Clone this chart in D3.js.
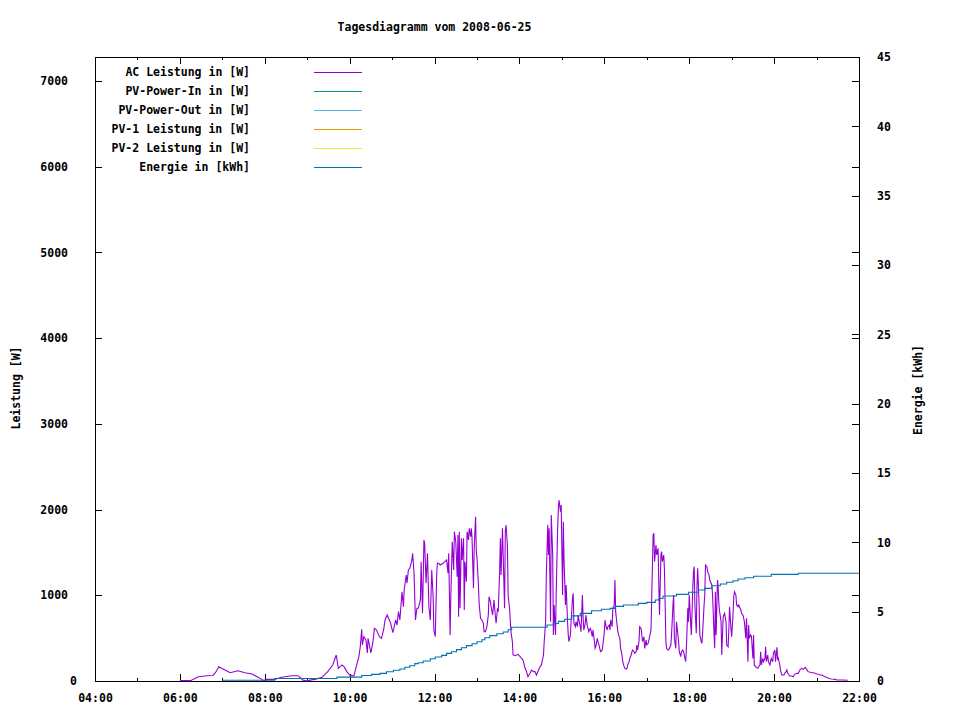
<!DOCTYPE html>
<html><head><meta charset="utf-8">
<script src="https://cdn.jsdelivr.net/npm/d3@7"></script>
<style>
body{margin:0;background:#fff;}
svg{display:block;background:#fff;}
text{font-family:"DejaVu Sans Mono",monospace;font-size:11.5px;font-weight:bold;fill:#000;}
</style></head><body>
<svg id="c" width="960" height="720"></svg>
<script>
// ---------- data ----------
const chartTitle = "Tagesdiagramm vom 2008-06-25";
const yLabel = "Leistung [W]";
const y2Label = "Energie [kWh]";
const legendNames = ["AC Leistung in [W]","PV-Power-In in [W]","PV-Power-Out in [W]","PV-1 Leistung in [W]","PV-2 Leistung in [W]","Energie in [kWh]"];
const legendColors = ["#9400d3","#009e73","#56b4e9","#e69f00","#f0e442","#0072b2"];
const xMajorTicks = [240,360,480,600,720,840,960,1080,1200,1320];   // minutes of day
const xMinorTicks = [300,420,540,660,780,900,1020,1140,1260];
const yTicks = [0,1000,2000,3000,4000,5000,6000,7000];
const y2Ticks = [0,5,10,15,20,25,30,35,40,45];
// AC Leistung [minute of day, W]
const acPower = [
[360,4],[375,4],[386,50],[398,62],[407,65],[412,120],[415,167],[421,140],[431,97],[442,120],[452,97],[462,82],[469,50],[476,19],[478,4],[483,19],[494,19],[504,43],[518,62],[527,62],[530,43],[534,10],[540,0],[544,10],[551,19],[561,43],[569,109],[576,187],[581,303],[584,148],[589,187],[592,167],[596,110],[600,70],[606,58],[609,160],[613,284],
[615,400],[617,603],[618,420],[620,517],[623,478],[625,327],[626,498],[630,327],[633,459],[635,614],[638,595],[642,517],[645,498],[648,595],[650,712],[653,770],[656,712],[658,673],[661,564],[663,634],[665,712],[667,653],[669,809],[671,712],[674,1042],[676,867],[677,1062],[680,1237],[681,1140],[683,1295],[685,1315],[688,1412],[689,1490],[691,1257],[693,712],[695,848],[697,848],[700,945],[701,1392],[703,790],[705,1645],[706,1606],[708,1140],[710,1490],[712,867],[714,712],[716,1295],[718,984],[719,595],[721,517],[723,1237],[724,1373],[726,1373],[728,1353],[732,1373],[737,1412],[739,1257],[740,1490],[742,537],[743,984],[745,1625],[747,1295],[748,1742],
[750,1625],[752,1217],[753,1703],[754,750],[755,1742],[756,848],[758,1665],[759,1412],[761,1665],[762,828],[763,1392],[765,1159],[766,1742],[768,1645],[769,1781],[771,1684],[772,1781],[773,1665],[775,1081],[776,1548],[778,1917],[779,1509],[780,1431],[782,1120],[783,906],[785,731],[787,712],[789,673],[790,575],[792,575],[794,634],[796,770],[797,984],[799,925],[800,867],[802,770],[803,848],[804,945],[806,750],[807,673],[809,848],[810,809],[812,1275],[813,1665],[814,1237],[816,1781],[817,1470],[819,848],[820,1742],[821,1820],[823,1587],[824,1003],[826,848],[827,712],[828,575],[830,459],[831,303],[832,303],[834,295],[836,303],[838,311],[841,284],[843,264],[845,245],[848,148],[850,109],[852,50],[855,90],[857,128],[860,109],[862,109],[864,70],[867,128],[869,167],[871,187],[874,303],[875,459],[877,692],[878,1237],[880,1820],[881,1470],[882,1781],[884,692],[885,1937],[887,1470],[888,537],[889,887],[891,537],[892,1042],[894,1781],[895,2015],[896,2112],[898,1975],[899,2053],[901,1003],[902,1859],[903,1431],[905,887],[906,1120],[908,692],[909,537],[910,459],[912,537],[913,692],[915,965],[916,1023],[917,673],
[919,634],[920,692],[922,634],[923,770],[924,712],[926,634],[927,575],[929,1003],[930,731],[931,595],[933,673],[934,770],[936,634],[937,614],[938,575],[940,614],[941,595],[943,517],[944,595],[946,459],[947,381],[948,400],[950,498],[951,459],[953,400],[954,362],[955,342],[957,362],[958,420],[960,575],[961,712],[962,653],[964,595],[965,634],[967,653],[968,595],[969,712],[971,634],[972,848],[974,887],[975,1178],[976,809],[978,653],[979,575],[981,517],[982,498],[983,381],[985,303],[986,225],[988,167],[989,148],[991,140],[992,148],[993,187],[995,225],[996,264],[998,303],[999,342],[1000,362],[1002,342],[1003,323],[1005,342],[1006,420],[1007,362],[1009,459],[1010,634],[1012,614],[1013,537],[1014,459],[1016,517],[1017,381],[1019,478],[1020,420],[1022,440],[1023,478],[1024,517],[1026,595],[1027,984],[1029,1703],[1030,1723],[1031,1392],[1033,1587],[1034,1470],[1036,1548],[1037,1120],[1038,770],[1040,1470],[1041,1509],[1042,1392],[1044,1470],[1045,1295],[1047,459],[1048,381],[1050,362],[1051,362],[1052,381],[1054,420],[1055,537],[1057,887],[1058,1003],[1059,498],[1061,381],[1062,692],[1063,614],[1065,459],[1066,342],[1068,284],[1069,342],[1071,362],[1072,342],[1073,303],[1075,225],[1076,381],[1078,848],[1079,692],[1080,1003],
[1082,692],[1083,537],[1085,1081],[1086,1275],[1087,1334],[1088,887],[1090,556],[1091,1120],[1092,1314],[1094,887],[1095,537],[1097,459],[1098,440],[1099,575],[1101,887],[1102,1003],[1103,1353],[1105,1334],[1106,1275],[1108,1237],[1109,1178],[1110,1159],[1112,1120],[1113,1003],[1115,575],[1116,381],[1117,1042],[1118,537],[1120,1178],[1121,1081],[1122,887],[1123,809],[1125,692],[1126,303],[1128,750],[1129,770],[1130,789],[1132,692],[1133,420],[1135,400],[1136,595],[1137,867],[1139,614],[1140,517],[1142,789],[1143,984],[1144,1042],[1146,1003],[1147,887],[1149,867],[1150,887],[1151,867],[1153,828],[1154,789],[1156,770],[1157,731],[1158,692],[1160,498],[1161,731],[1163,225],[1164,653],[1165,498],[1167,537],[1168,517],[1170,264],[1171,537],[1172,187],[1174,167],[1175,156],[1177,148],[1178,167],[1180,187],[1181,342],[1182,187],[1184,264],[1185,225],[1187,264],[1188,400],[1189,225],[1191,303],[1192,225],[1194,187],[1195,225],[1196,264],[1198,225],[1199,323],[1201,362],[1202,225],[1204,393],[1205,245],[1206,264],[1208,187],[1209,128],[1211,70],
[1212,70],[1214,70],[1215,89],[1217,109],[1218,128],[1219,97],[1221,70],[1222,58],[1225,58],[1227,50],[1229,78],[1232,89],[1234,89],[1237,136],[1239,148],[1241,136],[1244,159],[1246,136],[1248,109],[1251,101],[1253,97],[1256,97],[1258,89],[1260,82],[1263,78],[1265,70],[1267,70],[1270,58],[1272,50],[1274,43],[1277,31],[1279,27],[1282,23],[1286,19],[1289,12],[1296,12],[1304,8]
];
// Energie [minute of day, kWh]
const energy = [
[420,0.05],[494,0.18],[582,0.28],[617,0.4],[631,0.48],[643,0.55],[652,0.67],[662,0.77],[671,0.87],[678,0.99],[685,1.10],[692,1.25],[697,1.32],[704,1.44],[714,1.61],[721,1.73],[730,1.85],[737,1.99],[744,2.11],[751,2.26],[758,2.40],[765,2.55],[773,2.69],[780,2.83],[787,2.98],[791,3.12],[798,3.27],[808,3.41],[817,3.53],[824,3.70],[829,3.88],[879,4.04],[888,4.15],[895,4.30],[904,4.45],[914,4.70],[926,4.88],[942,5.07],[956,5.17],[968,5.24],[975,5.38],[987,5.48],[1008,5.60],[1020,5.67],[1032,5.84],[1037,5.95],[1043,6.13],[1062,6.25],[1079,6.40],[1093,6.56],[1102,6.68],[1112,6.87],[1124,7.00],[1133,7.12],[1142,7.23],[1149,7.36],[1159,7.45],[1171,7.55],[1196,7.69],[1234,7.77],[1320,7.77]
];

// ---------- layout ----------
const L = 95, R = 859, T = 57, B = 681;
const svg = d3.select("#c");
const x = d3.scaleLinear().domain([240,1320]).range([L,R]);
const yL = d3.scaleLinear().domain([0,7280]).range([B,T]);
const yR = d3.scaleLinear().domain([0,45]).range([B,T]);
const fmtTime = m => String(Math.floor(m/60)).padStart(2,"0")+":"+String(m%60).padStart(2,"0");

function styleAxis(g){
  g.select(".domain").remove();
  g.selectAll(".tick line").attr("stroke","#000").attr("shape-rendering","crispEdges");
  g.selectAll("text").attr("font-family",null).attr("font-size",null).attr("fill","#000");
  g.attr("font-family",null).attr("font-size",null);
}

// bottom axis
svg.append("g").attr("transform",`translate(0,${B})`)
  .call(d3.axisBottom(x).tickValues(xMajorTicks).tickFormat(fmtTime).tickSizeInner(-7).tickSizeOuter(0).tickPadding(13))
  .call(styleAxis);
svg.append("g").attr("transform",`translate(0,${B})`)
  .call(d3.axisBottom(x).tickValues(xMinorTicks).tickFormat("").tickSizeInner(-3).tickSizeOuter(0))
  .call(styleAxis);
// top mirror
svg.append("g").attr("transform",`translate(0,${T})`)
  .call(d3.axisTop(x).tickValues(xMajorTicks).tickFormat("").tickSizeInner(-7).tickSizeOuter(0))
  .call(styleAxis);
svg.append("g").attr("transform",`translate(0,${T})`)
  .call(d3.axisTop(x).tickValues(xMinorTicks).tickFormat("").tickSizeInner(-3).tickSizeOuter(0))
  .call(styleAxis);
// left axis
const gl = svg.append("g").attr("transform",`translate(${L},0)`)
  .call(d3.axisLeft(yL).tickValues(yTicks).tickFormat(d3.format("d")).tickSizeInner(-7).tickSizeOuter(0).tickPadding(27))
  .call(styleAxis);
gl.selectAll(".tick text").filter(d=>d===0).attr("x",-18);
// right mirror of left ticks
svg.append("g").attr("transform",`translate(${R},0)`)
  .call(d3.axisRight(yL).tickValues(yTicks).tickFormat("").tickSizeInner(-7).tickSizeOuter(0))
  .call(styleAxis);
// right axis
svg.append("g").attr("transform",`translate(${R},0)`)
  .call(d3.axisRight(yR).tickValues(y2Ticks).tickFormat(d3.format("d")).tickSizeInner(-7).tickSizeOuter(0).tickPadding(18))
  .call(styleAxis);

// border
svg.append("rect").attr("x",L+0.5).attr("y",T+0.5).attr("width",R-L).attr("height",B-T)
  .attr("fill","none").attr("stroke","#000").attr("stroke-width",1).attr("shape-rendering","crispEdges");

// titles
svg.append("text").attr("x",434.5).attr("y",27).attr("dy","0.35em").attr("text-anchor","middle").text(chartTitle);
svg.append("text").attr("transform","translate(16,388) rotate(-90)").attr("dy","0.35em").attr("text-anchor","middle").text(yLabel);
svg.append("text").attr("transform","translate(918,390) rotate(-90)").attr("dy","0.35em").attr("text-anchor","middle").text(y2Label);

// legend
const leg = svg.append("g");
legendNames.forEach((n,i)=>{
  const yy = 72 + i*19;
  leg.append("text").attr("x",250).attr("y",yy).attr("dy","0.35em").attr("text-anchor","end").text(n);
  leg.append("line").attr("x1",314).attr("x2",362).attr("y1",yy+0.5).attr("y2",yy+0.5)
    .attr("stroke",legendColors[i]).attr("stroke-width",1).attr("shape-rendering","crispEdges");
});

// series
const lineW = d3.line().x(d=>x(d[0])).y(d=>yL(d[1]));
svg.append("path").datum(acPower).attr("d",lineW)
  .attr("fill","none").attr("stroke",legendColors[0]).attr("stroke-width",1.1);
const lineE = d3.line().x(d=>x(d[0])).y(d=>yR(d[1])).curve(d3.curveStepAfter);
svg.append("path").datum(energy).attr("d",lineE)
  .attr("fill","none").attr("stroke",legendColors[5]).attr("stroke-width",1.1);
</script>
</body></html>
